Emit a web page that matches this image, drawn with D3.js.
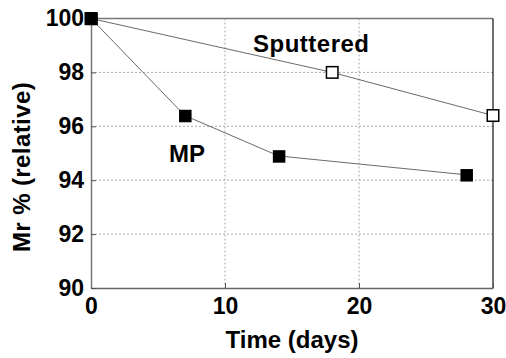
<!DOCTYPE html>
<html>
<head>
<meta charset="utf-8">
<script src="https://cdn.jsdelivr.net/npm/d3@7"></script>
<style>
    body { margin: 0; background: #fff; }
    #mr-chart text { font-family: "Liberation Sans", Arial, sans-serif; font-weight: bold; fill: #000; }
</style>
</head>
<body>
<div id="mr-chart"></div>
<script>
// values
var mpDays = [0, 7, 14, 28];
var mpValues = [100, 96.4, 94.9, 94.2];
var sputDays = [0, 18, 30];
var sputValues = [100, 98, 96.4];
var xTicks = [0, 10, 20, 30];
var yTicks = [90, 92, 94, 96, 98, 100];

drawMrChart();

function drawMrChart() {
    var margin = {
        top: 18.5,
        right: 13,
        bottom: 70,
        left: 91
    };

    var width = 506 - margin.left - margin.right,
        height = 358 - margin.top - margin.bottom;

    var svgRoot = d3.select("#mr-chart").append("svg")
        .attr("width", 506)
        .attr("height", 358);

    var svg = svgRoot.append("g")
        .attr("transform", "translate(" + margin.left + "," + margin.top + ")");

    var x = d3.scaleLinear().domain([0, 30]).range([0, width]);
    var y = d3.scaleLinear().domain([90, 100]).range([height, 0]);

    // dotted grid
    svg.append("g").selectAll("line")
        .data(xTicks.slice(1, -1))
        .enter().append("line")
        .attr("x1", function (d) { return x(d); })
        .attr("x2", function (d) { return x(d); })
        .attr("y1", 0)
        .attr("y2", height)
        .attr("stroke", "#a8a8a8")
        .attr("stroke-dasharray", "2,2");

    svg.append("g").selectAll("line")
        .data(yTicks.slice(1, -1))
        .enter().append("line")
        .attr("x1", 0)
        .attr("x2", width)
        .attr("y1", function (d) { return y(d); })
        .attr("y2", function (d) { return y(d); })
        .attr("stroke", "#a8a8a8")
        .attr("stroke-dasharray", "2,2");

    // frame
    svg.append("line").attr("x1", 0).attr("x2", width).attr("y1", 0).attr("y2", 0)
        .attr("stroke", "#777").attr("stroke-width", 1.5);
    svg.append("line").attr("x1", width).attr("x2", width).attr("y1", 0).attr("y2", height)
        .attr("stroke", "#111").attr("stroke-width", 1.2);

    var xAxis = d3.axisBottom(x)
        .tickValues(xTicks)
        .tickSizeInner(-5)
        .tickSizeOuter(0)
        .tickPadding(10)
        .tickFormat(d3.format("d"));

    var yAxis = d3.axisLeft(y)
        .tickValues(yTicks)
        .tickSizeInner(-5)
        .tickSizeOuter(0)
        .tickPadding(7)
        .tickFormat(d3.format("d"));

    var gx = svg.append("g")
        .attr("transform", "translate(0," + height + ")")
        .call(xAxis);
    gx.select(".domain").attr("stroke", "#666").attr("stroke-width", 1.5);
    gx.selectAll(".tick line").attr("stroke", "#555");
    gx.selectAll(".tick text")
        .attr("font-size", "23px")
        .attr("dy", "0.71em")
        .attr("y", 9.5);

    var gy = svg.append("g").call(yAxis);
    gy.select(".domain").attr("stroke", "#777").attr("stroke-width", 1.5);
    gy.selectAll(".tick line").attr("stroke", "#555");
    gy.selectAll(".tick text").attr("font-size", "23px");

    // connecting lines
    var line = d3.line()
        .x(function (d) { return x(d[0]); })
        .y(function (d) { return y(d[1]); });

    var mpPoints = d3.zip(mpDays, mpValues);
    var sputPoints = d3.zip(sputDays, sputValues);

    svg.append("path")
        .datum(sputPoints)
        .attr("d", line)
        .attr("fill", "none")
        .attr("stroke", "#6a6a6a")
        .attr("stroke-width", 1);

    svg.append("path")
        .datum(mpPoints)
        .attr("d", line)
        .attr("fill", "none")
        .attr("stroke", "#6a6a6a")
        .attr("stroke-width", 1);

    var size = 11.5;

    svg.append("g").selectAll("rect")
        .data(sputPoints)
        .enter().append("rect")
        .attr("x", function (d) { return x(d[0]) - size / 2; })
        .attr("y", function (d) { return y(d[1]) - size / 2; })
        .attr("width", size)
        .attr("height", size)
        .attr("fill", "#fff")
        .attr("stroke", "#000")
        .attr("stroke-width", 1.5);

    svg.append("g").selectAll("rect")
        .data(mpPoints)
        .enter().append("rect")
        .attr("x", function (d) { return x(d[0]) - size / 2; })
        .attr("y", function (d) { return y(d[1]) - size / 2; })
        .attr("width", size + 1)
        .attr("height", size + 1)
        .attr("fill", "#000");

    // series labels
    svgRoot.append("text")
        .attr("x", 253)
        .attr("y", 52)
        .attr("font-size", "24px")
        .attr("letter-spacing", "0.5px")
        .text("Sputtered");

    svgRoot.append("text")
        .attr("x", 169)
        .attr("y", 162)
        .attr("font-size", "24px")
        .text("MP");

    // axis titles
    svgRoot.append("text")
        .attr("x", margin.left + width / 2)
        .attr("y", 348)
        .attr("text-anchor", "middle")
        .attr("font-size", "24px")
        .text("Time (days)");

    svgRoot.append("text")
        .attr("transform", "translate(30,167) rotate(-90)")
        .attr("text-anchor", "middle")
        .attr("font-size", "24px")
        .attr("letter-spacing", "0.4px")
        .text("Mr % (relative)");
}
</script>
</body>
</html>
